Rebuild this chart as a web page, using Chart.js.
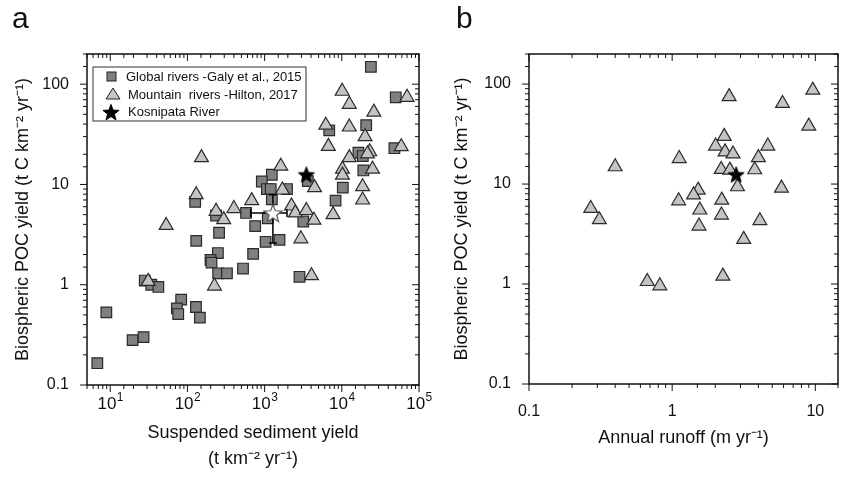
<!DOCTYPE html>
<html>
<head>
<meta charset="utf-8">
<script src="https://cdn.jsdelivr.net/npm/chart.js@4.4.1/dist/chart.umd.min.js"></script>
<style>
  body { margin: 0; background: #fff; font-family: "Liberation Sans", Arial, sans-serif; }
  .panel { position: absolute; top: 0; height: 478px; }
  .letter { position: absolute; top: 1px; font-size: 30px; color: #111; }
</style>
</head>
<body>
<div class="panel" style="left:0;width:440px"><canvas id="chartA"></canvas></div>
<div class="panel" style="left:440px;width:409px"><canvas id="chartB"></canvas></div>
<div class="letter" style="left:12px">a</div>
<div class="letter" style="left:456px">b</div>
<script>
// Panel a: global rivers (Galy et al., 2015) - sediment yield vs POC yield
const galySed = [23800, 50000, 6870, 20700, 48000, 16400, 18700, 19000, 1240, 3630, 920, 1070, 1200, 1950, 10300, 8300, 1240, 126, 575, 235, 1100, 3170, 755, 257, 130, 1030, 1560, 248, 710, 199, 205, 250, 325, 525, 2830, 28, 34, 42, 83, 73, 76, 129, 145, 8.9, 19.5, 27, 6.8];
const galyPoc = [149, 74, 34.6, 39, 23, 20.7, 19.2, 13.8, 12.5, 10.8, 10.7, 9.0, 9.0, 9.0, 9.3, 6.9, 7.1, 6.7, 5.2, 4.9, 4.6, 4.27, 3.84, 3.3, 2.74, 2.68, 2.8, 2.07, 2.03, 1.77, 1.66, 1.3, 1.3, 1.45, 1.2, 1.1, 1.0, 0.95, 0.71, 0.58, 0.51, 0.60, 0.47, 0.53, 0.28, 0.30, 0.165];

// Mountain rivers (Hilton, 2017)
const hiltonSed = [10100, 70000, 12500, 26000, 6200, 12500, 20000, 6700, 59000, 23000, 21500, 12500, 152, 1620, 10200, 25000, 10200, 4430, 1700, 18600, 130, 680, 18600, 235, 400, 295, 2230, 2500, 3470, 4350, 7700, 53, 2950, 4050, 31, 224];
const hiltonPoc = [85, 74, 63, 52.7, 39, 37.4, 30, 24, 23.8, 21.2, 20.2, 18.5, 18.5, 15.2, 14.2, 14.2, 12.4, 9.3, 8.8, 9.5, 7.9, 6.9, 7.0, 5.4, 5.75, 4.46, 6.1, 5.2, 5.5, 4.4, 5.0, 3.9, 2.87, 1.23, 1.08, 0.97];

// Kosnipata River
const kosSed = [3470];
const kosPoc = [12.6];
// Open star with error bars
const openSed = [1280];
const openPoc = [5.2];
const openSedRange = [660, 1950];
const openPocRange = [2.6, 7.9];

// Panel b: annual runoff vs POC yield (mountain rivers)
const runoff = [9.6, 2.5, 5.9, 9.0, 2.31, 2.01, 4.66, 2.34, 2.66, 4.0, 1.12, 0.40, 2.2, 2.53, 3.77, 2.86, 5.8, 1.52, 1.41, 1.11, 2.22, 0.27, 1.56, 2.21, 0.31, 4.1, 1.54, 3.16, 2.26, 0.67, 0.82];
const runoffPoc = [87, 75, 64, 38, 30, 24, 24, 21, 20, 18.4, 18, 14.9, 14, 13.8, 13.9, 9.4, 9.1, 8.7, 7.8, 6.8, 6.9, 5.7, 5.5, 4.9, 4.4, 4.3, 3.8, 2.8, 1.2, 1.06, 0.96];
const kosRunoff = [2.8];
const kosRunoffPoc = [12.5];

const FONT = '"Liberation Sans", Arial, sans-serif';

function toPoints(xs, ys) {
    return xs.map((x, i) => ({ x: x, y: ys[i] }));
}

function isPow10(v) {
    const l = Math.log10(v);
    return Math.abs(l - Math.round(l)) < 1e-6;
}

function makeStar(size, fill, stroke, lw) {
    const c = document.createElement('canvas');
    c.width = size; c.height = size;
    const g = c.getContext('2d');
    const r = size / 2 - 1.5, ri = r * 0.42, cx = size / 2, cy = size / 2 + 1;
    g.beginPath();
    for (let i = 0; i < 10; i++) {
        const a = -Math.PI / 2 + i * Math.PI / 5;
        const rr = i % 2 ? ri : r;
        g.lineTo(cx + rr * Math.cos(a), cy + rr * Math.sin(a));
    }
    g.closePath();
    g.fillStyle = fill;
    g.fill();
    g.lineWidth = lw;
    g.strokeStyle = stroke;
    g.stroke();
    return c;
}

const blackStar = makeStar(20, '#000', '#000', 1);
const whiteStar = makeStar(22, '#fff', '#555', 1.2);

// error bars of the open star, drawn over the squares, then the open star itself on top
const errorBarPlugin = {
    id: 'errorBars',
    afterDatasetsDraw(chart) {
        if (chart.canvas.id !== 'chartA') return;
        const sx = chart.scales.x, sy = chart.scales.y;
        const pt = chart.getDatasetMeta(1).data[0];
        const cx = pt.x, cy = pt.y;
        const x0 = sx.getPixelForValue(openSedRange[0]);
        const x1 = sx.getPixelForValue(openSedRange[1]);
        const y0 = sy.getPixelForValue(openPocRange[0]);
        const y1 = sy.getPixelForValue(openPocRange[1]);
        const ctx = chart.ctx;
        ctx.save();
        ctx.strokeStyle = '#000';
        ctx.lineWidth = 1.5;
        ctx.beginPath();
        ctx.moveTo(x0, cy); ctx.lineTo(x1, cy);
        ctx.moveTo(cx, y0); ctx.lineTo(cx, y1);
        ctx.moveTo(x0, cy - 4); ctx.lineTo(x0, cy + 4);
        ctx.moveTo(x1, cy - 4); ctx.lineTo(x1, cy + 4);
        ctx.moveTo(cx - 4, y0); ctx.lineTo(cx + 4, y0);
        ctx.moveTo(cx - 4, y1); ctx.lineTo(cx + 4, y1);
        ctx.stroke();
        ctx.drawImage(whiteStar, cx - 11, cy - 11, 22, 22);
        ctx.restore();
    }
};

// draws the box and the log ticks on all four sides
const framePlugin = {
    id: 'frame',
    afterDraw(chart) {
        const ctx = chart.ctx;
        const a = chart.chartArea;
        ctx.save();
        ctx.strokeStyle = '#111';
        ctx.lineWidth = 1.5;
        ctx.strokeRect(a.left, a.top, a.right - a.left, a.bottom - a.top);
        ctx.lineWidth = 1;
        ctx.beginPath();
        chart.scales.x.ticks.forEach(t => {
            const px = chart.scales.x.getPixelForValue(t.value);
            if (px < a.left - 0.5 || px > a.right + 0.5) return;
            const len = isPow10(t.value) ? 7 : 4;
            ctx.moveTo(px, a.bottom); ctx.lineTo(px, a.bottom + len);
            ctx.moveTo(px, a.top); ctx.lineTo(px, a.top + len);
        });
        chart.scales.y.ticks.forEach(t => {
            const py = chart.scales.y.getPixelForValue(t.value);
            if (py < a.top - 0.5 || py > a.bottom + 0.5) return;
            const len = isPow10(t.value) ? 7 : 4;
            ctx.moveTo(a.left, py); ctx.lineTo(a.left - len, py);
            ctx.moveTo(a.right, py); ctx.lineTo(a.right - len, py);
        });
        ctx.stroke();

        // power-of-ten labels with raised exponent (panel a x axis)
        if (chart.canvas.id === 'chartA') {
            ctx.fillStyle = '#111';
            ctx.textBaseline = 'alphabetic';
            chart.scales.x.ticks.forEach(t => {
                if (!isPow10(t.value)) return;
                const px = chart.scales.x.getPixelForValue(t.value);
                const e = String(Math.round(Math.log10(t.value)));
                ctx.font = '17px ' + FONT;
                const w1 = ctx.measureText('10').width;
                ctx.font = '12px ' + FONT;
                const w2 = ctx.measureText(e).width;
                const x0 = px - (w1 + w2) / 2;
                ctx.font = '17px ' + FONT;
                ctx.fillText('10', x0, a.bottom + 24);
                ctx.font = '12px ' + FONT;
                ctx.fillText(e, x0 + w1 + 0.5, a.bottom + 16);
            });
        }
        ctx.restore();
    }
};

// boxed legend in panel a
const legendPlugin = {
    id: 'boxLegend',
    afterDraw(chart) {
        if (chart.canvas.id !== 'chartA') return;
        const ctx = chart.ctx;
        ctx.save();
        ctx.strokeStyle = '#333';
        ctx.lineWidth = 1;
        ctx.strokeRect(93, 67, 213, 54);
        ctx.font = '13px ' + FONT;
        ctx.textBaseline = 'middle';
        // square
        ctx.fillStyle = '#808080';
        ctx.fillRect(107, 72, 9, 9);
        ctx.strokeStyle = '#222';
        ctx.strokeRect(107, 72, 9, 9);
        // triangle
        ctx.beginPath();
        ctx.moveTo(113, 88); ctx.lineTo(120, 99); ctx.lineTo(106, 99); ctx.closePath();
        ctx.fillStyle = '#c4c4c4'; ctx.fill(); ctx.stroke();
        ctx.drawImage(blackStar, 101, 102, 20, 20);
        ctx.fillStyle = '#111';
        ctx.fillText('Global rivers -Galy et al., 2015', 126, 77);
        ctx.fillText('Mountain  rivers -Hilton, 2017', 128, 95);
        ctx.fillText('Kosnipata River', 128, 112);
        ctx.restore();
    }
};

const squareStyle = {
    pointStyle: 'rect', pointRadius: 7.5, pointHoverRadius: 7.5,
    backgroundColor: '#808080', borderColor: '#2a2a2a', borderWidth: 1.2
};
const triStyle = {
    pointStyle: 'triangle', pointRadius: 8, pointHoverRadius: 8,
    backgroundColor: '#c4c4c4', borderColor: '#2a2a2a', borderWidth: 1.2
};

function logAxis(min, max, fmt, titleText) {
    return {
        type: 'logarithmic', min: min, max: max,
        grid: { display: false }, border: { display: false },
        ticks: {
            autoSkip: false, maxRotation: 0, padding: 10,
            color: '#111', font: { family: FONT, size: 16 },
            callback: v => isPow10(v) ? fmt(v) : ''
        },
        title: titleText
    };
}

function decFmt(v) {
    const e = Math.round(Math.log10(v));
    return e < 0 ? v.toFixed(-e) : String(Math.round(v));
}

const yTitle = {
    display: true, text: 'Biospheric POC yield (t C km⁻² yr⁻¹)',
    color: '#111', font: { family: FONT, size: 18 }, padding: { bottom: 4 }
};

function fixWidth(w) { return s => { s.width = w; }; }
function fixHeight(h) { return s => { s.height = h; }; }

// panel a (x labels are drawn by framePlugin)
const axA = {
    x: logAxis(5, 100000, () => '', {
        display: true, text: ['Suspended sediment yield', '(t km⁻² yr⁻¹)'],
        color: '#111', font: { family: FONT, size: 18, lineHeight: 1.45 }, padding: { top: 14 }
    }),
    y: logAxis(0.1, 200, decFmt, yTitle)
};
axA.x.afterFit = fixHeight(91);
axA.y.afterFit = fixWidth(79);

new Chart(document.getElementById('chartA'), {
    type: 'scatter',
    data: {
        datasets: [
            { data: toPoints(kosSed, kosPoc), pointStyle: blackStar, pointRadius: 10, order: 0 },
            // open star position; its symbol is drawn by errorBarPlugin above the bars
            { data: toPoints(openSed, openPoc), pointRadius: 0, order: 1 },
            Object.assign({ data: toPoints(hiltonSed, hiltonPoc), order: 3 }, triStyle),
            Object.assign({ data: toPoints(galySed, galyPoc), order: 4 }, squareStyle)
        ]
    },
    options: {
        responsive: true, maintainAspectRatio: false, animation: false,
        layout: { padding: { top: 54, right: 21, bottom: 2, left: 8 } },
        plugins: { legend: { display: false }, tooltip: { enabled: false } },
        scales: axA
    },
    plugins: [errorBarPlugin, framePlugin, legendPlugin]
});

// panel b
const axB = {
    x: logAxis(0.1, 14.4, decFmt, {
        display: true, text: 'Annual runoff (m yr⁻¹)',
        color: '#111', font: { family: FONT, size: 18 }, padding: { top: 14 }
    }),
    y: logAxis(0.1, 200, decFmt, yTitle)
};
axB.x.afterFit = fixHeight(69);
axB.y.afterFit = fixWidth(82);

new Chart(document.getElementById('chartB'), {
    type: 'scatter',
    data: {
        datasets: [
            { data: toPoints(kosRunoff, kosRunoffPoc), pointStyle: blackStar, pointRadius: 10, order: 0 },
            Object.assign({ data: toPoints(runoff, runoffPoc), order: 1 }, triStyle)
        ]
    },
    options: {
        responsive: true, maintainAspectRatio: false, animation: false,
        layout: { padding: { top: 54, right: 9, bottom: 25, left: 7 } },
        plugins: { legend: { display: false }, tooltip: { enabled: false } },
        scales: axB
    },
    plugins: [framePlugin]
});
</script>
</body>
</html>
